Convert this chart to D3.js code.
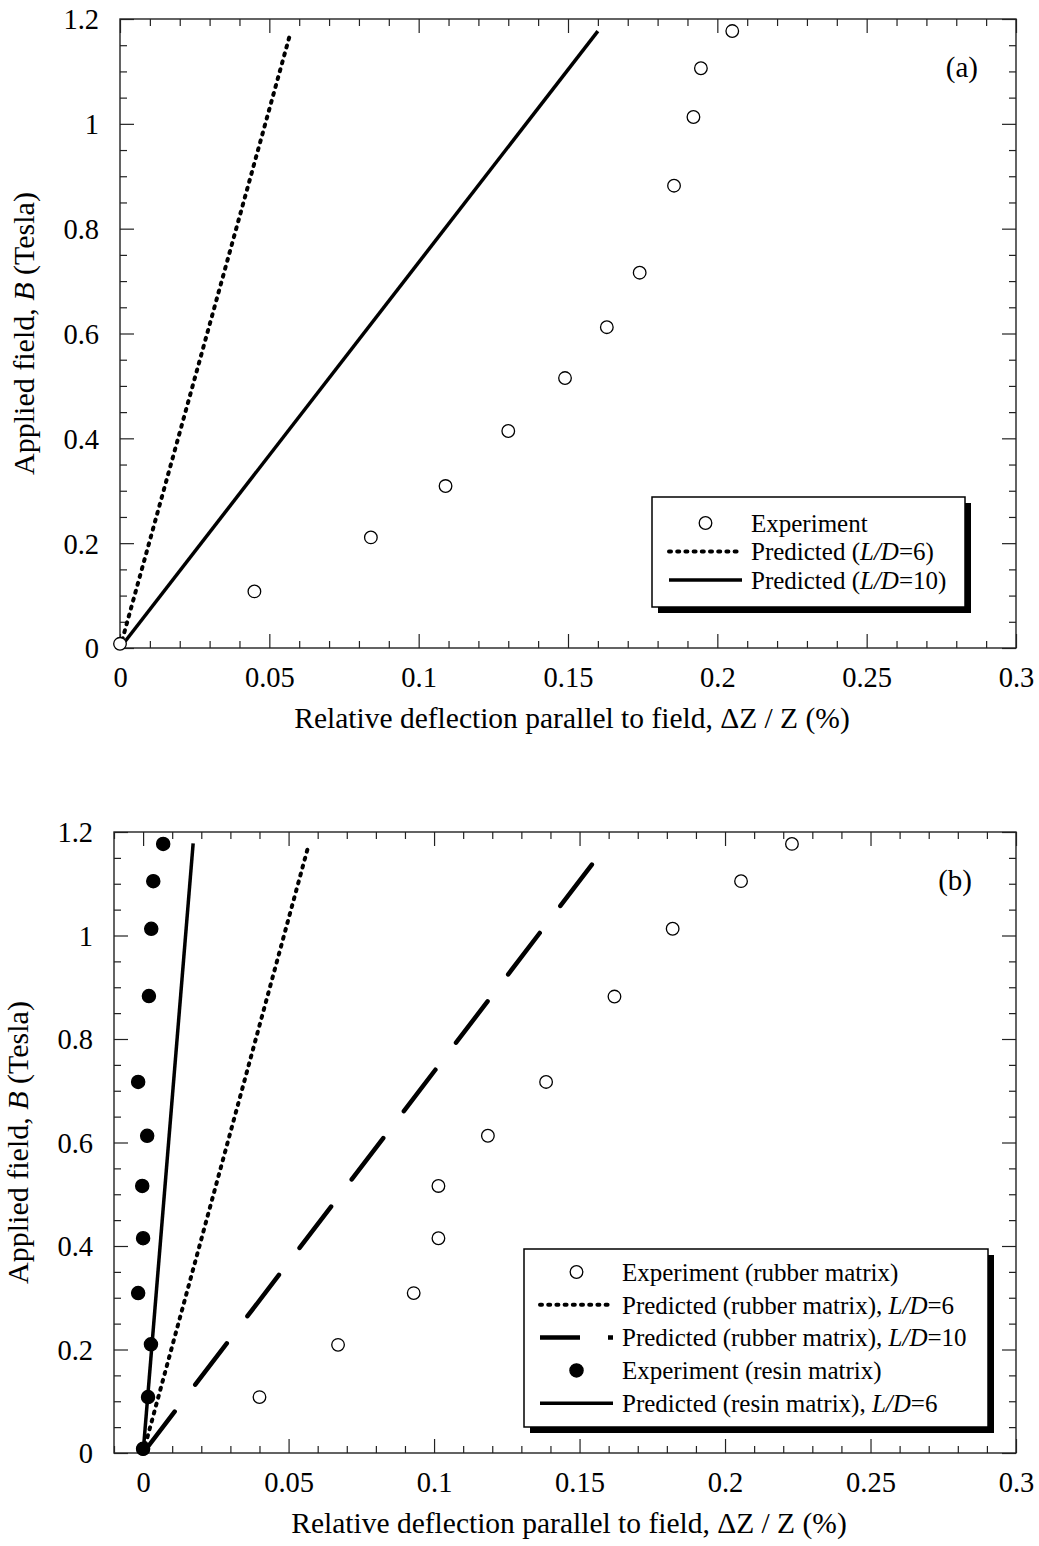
<!DOCTYPE html>
<html>
<head>
<meta charset="utf-8">
<script src="https://cdn.jsdelivr.net/npm/d3@7"></script>
<style>
  body { margin: 0; background: #fff; }
  svg { display: block; font-family: "Liberation Serif", "Times New Roman", serif; }
</style>
</head>
<body>
<svg id="chart" width="1039" height="1546"></svg>
<script>
// ticks
const xTicks = [0, 0.05, 0.1, 0.15, 0.2, 0.25, 0.3];
const yTicks = [0, 0.2, 0.4, 0.6, 0.8, 1, 1.2];

// panel (a) : [deflection %, field T]
const aExperiment = [
  [0.0, 0.008], [0.045, 0.108], [0.084, 0.211], [0.109, 0.309], [0.130, 0.414],
  [0.149, 0.515], [0.163, 0.612], [0.174, 0.716], [0.1855, 0.882], [0.192, 1.013],
  [0.1945, 1.106], [0.205, 1.177]
];
const aPredLD6 = [[0, 0], [0.057, 1.172]];
const aPredLD10 = [[0, 0], [0.16, 1.177]];

// panel (b)
const bRubberExp = [
  [0.0, 0.008], [0.040, 0.108], [0.067, 0.209], [0.093, 0.309], [0.1015, 0.415],
  [0.1015, 0.516], [0.1185, 0.613], [0.1385, 0.717], [0.162, 0.882], [0.182, 1.013],
  [0.2055, 1.105], [0.223, 1.177]
];
const bRubberLD6 = [[0, 0], [0.0567, 1.171]];
const bRubberLD10 = [[0, 0], [0.156, 1.15]];
const bResinExp = [
  [0.0, 0.008], [0.0017, 0.108], [0.0027, 0.21], [-0.0017, 0.309], [0.0, 0.415],
  [-0.0003, 0.516], [0.0014, 0.613], [-0.0017, 0.717], [0.002, 0.883], [0.0028, 1.013],
  [0.0035, 1.105], [0.0069, 1.177]
];
const bResinLD6 = [[0, 0], [0.0172, 1.178]];

const svg = d3.select("#chart");

const styles = {
  dotted: { width: 4, dash: "2,6.2", cap: "round" },
  solid: { width: 3.5, dash: null, cap: "butt" },
  longdash: { width: 4.5, dash: "52,34", cap: "round" }
};

function drawPanel(p) {
  const x = d3.scaleLinear().domain(p.xDomain).range([p.left, p.right]);
  const y = d3.scaleLinear().domain([0, 1.2]).range([p.bottom, p.top]);
  const g = svg.append("g");

  const xMinor = d3.range(-1, 31).map(i => i / 100)
    .filter(v => v >= p.xDomain[0] - 1e-9 && !xTicks.some(t => Math.abs(t - v) < 1e-9));
  const yMinor = d3.range(0, 25).map(i => i / 20)
    .filter(v => !yTicks.some(t => Math.abs(t - v) < 1e-9));

  function axis(make, scale, pos, values, size, labels) {
    const ax = make(scale).tickValues(values).tickSize(-size)
      .tickFormat(labels ? (d => String(d)) : "");
    const a = g.append("g").attr("transform", pos).call(ax);
    a.select(".domain").remove();
    a.selectAll(".tick line").attr("stroke", "#222").attr("stroke-width", 1.2);
    a.attr("font-family", null).attr("font-size", 28.5);
    return a;
  }

  const bx = axis(d3.axisBottom, x, `translate(0,${p.bottom})`, xTicks, 14, true);
  bx.selectAll("text").attr("y", 39).attr("dy", null).attr("fill", "#000");
  axis(d3.axisBottom, x, `translate(0,${p.bottom})`, xMinor, 7, false);
  axis(d3.axisTop, x, `translate(0,${p.top})`, xTicks, 14, false);
  axis(d3.axisTop, x, `translate(0,${p.top})`, xMinor, 7, false);

  const ly = axis(d3.axisLeft, y, `translate(${p.left},0)`, yTicks, 14, true);
  ly.selectAll("text").attr("x", -21).attr("dy", "0.35em").attr("fill", "#000");
  axis(d3.axisLeft, y, `translate(${p.left},0)`, yMinor, 7, false);
  axis(d3.axisRight, y, `translate(${p.right},0)`, yTicks, 14, false);
  axis(d3.axisRight, y, `translate(${p.right},0)`, yMinor, 7, false);

  g.append("rect")
    .attr("x", p.left).attr("y", p.top)
    .attr("width", p.right - p.left).attr("height", p.bottom - p.top)
    .attr("fill", "none").attr("stroke", "#222").attr("stroke-width", 1.4);

  // axis titles
  g.append("text")
    .attr("x", (p.left + p.right) / 2 + 4).attr("y", p.bottom + 80)
    .attr("text-anchor", "middle").attr("font-size", 29.5)
    .text("Relative deflection parallel to field, \u0394Z / Z (%)");

  const yt = g.append("text")
    .attr("transform", `translate(${p.left - 86},${(p.top + p.bottom) / 2}) rotate(-90)`)
    .attr("text-anchor", "middle").attr("font-size", 30);
  yt.append("tspan").text("Applied field, ");
  yt.append("tspan").attr("font-style", "italic").text("B");
  yt.append("tspan").text(" (Tesla)");

  g.append("text")
    .attr("x", p.labelX).attr("y", p.top + 58)
    .attr("text-anchor", "end").attr("font-size", 29)
    .text(p.label);

  const line = d3.line().x(d => x(d[0])).y(d => y(d[1]));

  p.lines.forEach(l => {
    const s = styles[l.style];
    g.append("path").datum(l.data)
      .attr("d", line)
      .attr("fill", "none").attr("stroke", "#000")
      .attr("stroke-width", s.width)
      .attr("stroke-dasharray", s.dash)
      .attr("stroke-linecap", s.cap);
  });

  p.points.forEach(pt => {
    g.append("g").selectAll("circle").data(pt.data).join("circle")
      .attr("cx", d => x(d[0])).attr("cy", d => y(d[1]))
      .attr("r", pt.filled ? 6.6 : 6.3)
      .attr("fill", pt.filled ? "#000" : "#fff")
      .attr("stroke", "#000").attr("stroke-width", 1.3);
  });

  // legend
  const L = p.legend;
  const lg = g.append("g");
  lg.append("rect").attr("x", L.x + 6).attr("y", L.y + 6)
    .attr("width", L.w).attr("height", L.h).attr("fill", "#000");
  lg.append("rect").attr("x", L.x).attr("y", L.y)
    .attr("width", L.w).attr("height", L.h)
    .attr("fill", "#fff").attr("stroke", "#000").attr("stroke-width", 1.5);

  L.items.forEach((it, i) => {
    const cy = L.firstRow + i * L.rowGap;
    if (it.marker) {
      lg.append("circle").attr("cx", (L.sx0 + L.sx1) / 2).attr("cy", cy)
        .attr("r", it.marker === "filled" ? 6.6 : 6.3)
        .attr("fill", it.marker === "filled" ? "#000" : "#fff")
        .attr("stroke", "#000").attr("stroke-width", 1.3);
    } else {
      const s = styles[it.style];
      lg.append("line").attr("x1", L.sx0).attr("x2", L.sx1)
        .attr("y1", cy).attr("y2", cy)
        .attr("stroke", "#000").attr("stroke-width", s.width)
        .attr("stroke-dasharray", it.style === "longdash" ? "40,28" : s.dash)
        .attr("stroke-linecap", it.style === "longdash" ? "butt" : s.cap);
    }
    const t = lg.append("text").attr("x", L.tx).attr("y", cy)
      .attr("dy", "0.35em").attr("font-size", 25);
    it.text.forEach(part => {
      t.append("tspan").attr("font-style", part.i ? "italic" : null).text(part.t);
    });
  });
}

const ld = n => [{ t: "L/D", i: true }, { t: "=" + n }];

drawPanel({
  xDomain: [0, 0.3], left: 120, right: 1016, top: 19, bottom: 648,
  label: "(a)", labelX: 978,
  lines: [
    { data: aPredLD6, style: "dotted" },
    { data: aPredLD10, style: "solid" }
  ],
  points: [{ data: aExperiment, filled: false }],
  legend: {
    x: 652, y: 497, w: 313, h: 110, firstRow: 523, rowGap: 28.5,
    sx0: 669, sx1: 742, tx: 751,
    items: [
      { marker: "open", text: [{ t: "Experiment" }] },
      { style: "dotted", text: [{ t: "Predicted (" }, ...ld(6), { t: ")" }] },
      { style: "solid", text: [{ t: "Predicted (" }, ...ld(10), { t: ")" }] }
    ]
  }
});

drawPanel({
  xDomain: [-0.01, 0.3], left: 114, right: 1016, top: 832, bottom: 1453,
  label: "(b)", labelX: 972,
  lines: [
    { data: bRubberLD6, style: "dotted" },
    { data: bRubberLD10, style: "longdash" },
    { data: bResinLD6, style: "solid" }
  ],
  points: [
    { data: bRubberExp, filled: false },
    { data: bResinExp, filled: true }
  ],
  legend: {
    x: 524, y: 1249, w: 464, h: 178, firstRow: 1272, rowGap: 32.8,
    sx0: 540, sx1: 613, tx: 622,
    items: [
      { marker: "open", text: [{ t: "Experiment (rubber matrix)" }] },
      { style: "dotted", text: [{ t: "Predicted (rubber matrix), " }, ...ld(6)] },
      { style: "longdash", text: [{ t: "Predicted (rubber matrix), " }, ...ld(10)] },
      { marker: "filled", text: [{ t: "Experiment (resin matrix)" }] },
      { style: "solid", text: [{ t: "Predicted (resin matrix), " }, ...ld(6)] }
    ]
  }
});
</script>
</body>
</html>
